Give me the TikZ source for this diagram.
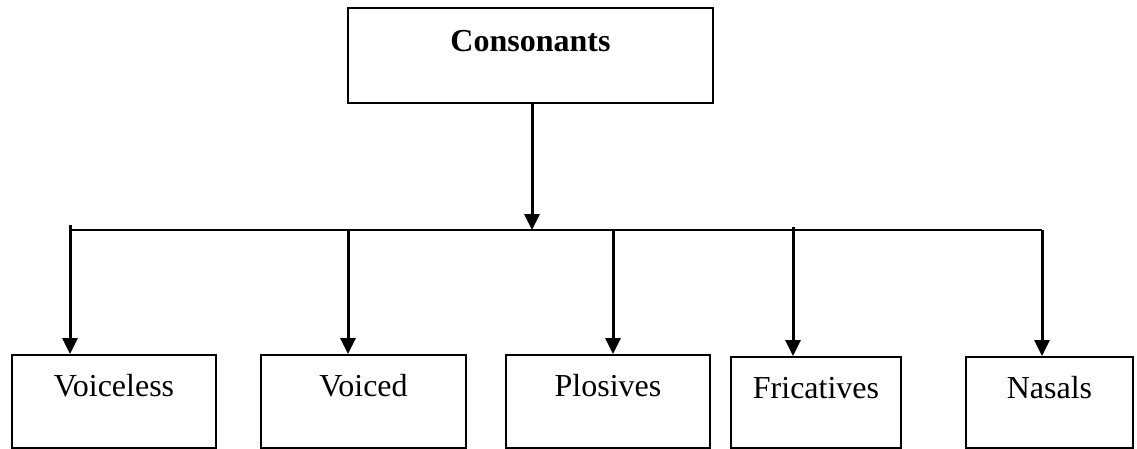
\documentclass[tikz,border=0pt]{standalone}
\usepackage{fontspec}
\setmainfont{Liberation Serif}
\usetikzlibrary{arrows.meta}
\begin{document}
\begin{tikzpicture}[x=1pt,y=-1pt,
  catbox/.style={draw, line width=2pt, anchor=north west, inner xsep=0pt, inner ysep=0pt,
    font=\fontsize{32}{38}\selectfont, text height=41pt, text depth=52pt},
  bus/.style={line width=2pt},
  down/.style={line width=3pt, -{Triangle[width=15pt,length=16pt]}}]
  \useasboundingbox (0,0) rectangle (1137,448);

  % root
  \node[catbox, minimum width=365pt, text width=365pt, align=center,
        font=\bfseries\fontsize{32}{38}\selectfont, text height=43pt, text depth=52pt]
        (root) at (347,7) {Consonants};

  % categories
  \node[catbox, minimum width=204pt, text width=204pt, align=center] (voiceless) at (11,354) {Voiceless};
  \node[catbox, minimum width=205pt, text width=205pt, align=center] (voiced) at (260,354) {Voiced};
  \node[catbox, minimum width=204pt, text width=204pt, align=center] (plosives) at (505,354) {Plosives};
  \node[catbox, minimum width=170pt, text width=170pt, align=center, text depth=50pt] (fricatives) at (730,356) {Fricatives};
  \node[catbox, minimum width=167pt, text width=167pt, align=center, text depth=50pt] (nasals) at (965,356) {Nasals};

  % distribution bar
  \coordinate (hub) at (532,230);
  \coordinate (busL) at (70,230);
  \coordinate (busR) at (1042,230);
  \draw[bus] (busL) -- (busR);
  \draw[down] (root.south -| hub) -- (hub);

  \coordinate (t1) at (70,225);
  \coordinate (t2) at (348,230);
  \coordinate (t3) at (613,230);
  \coordinate (t4) at (793,227);
  \coordinate (t5) at (1042,230);
  \draw[down] (t1) -- (t1 |- voiceless.north);
  \draw[down] (t2) -- (t2 |- voiced.north);
  \draw[down] (t3) -- (t3 |- plosives.north);
  \draw[down] (t4) -- (t4 |- fricatives.north);
  \draw[down] (t5) -- (t5 |- nasals.north);
\end{tikzpicture}
\end{document}
